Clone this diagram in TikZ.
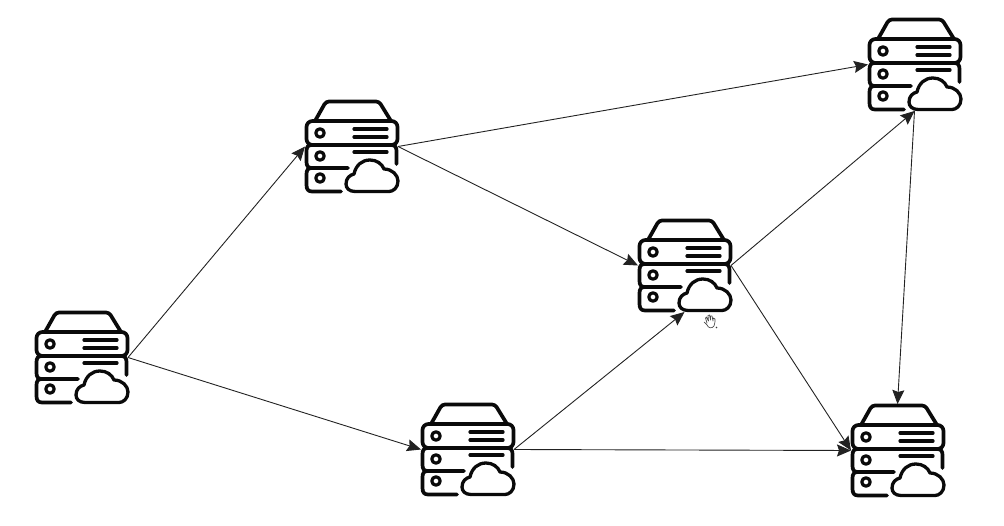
\documentclass[tikz,border=0pt]{standalone}
\usetikzlibrary{arrows.meta}
\definecolor{ink}{HTML}{0A0A0A}
\definecolor{wire}{HTML}{222222}
\tikzset{
  host/.style={inner sep=0pt,minimum width=93pt,minimum height=93pt,outer sep=0pt},
  link/.style={draw=wire,line width=0.9pt,-{Stealth[length=14pt,width=12pt,inset=2pt]}},
  server/.pic={
    \begin{scope}[draw=ink,line width=3.7pt,line cap=round,line join=round]
      \draw[rounded corners=3pt] (10,21) -- (21,1.5) -- (74,1.5) -- (86,21);
      \draw[rounded corners=6pt] (1.5,21) rectangle (92.5,45);
      \draw (91.5,64) -- (91.5,51) .. controls (91.5,47) and (90,45) .. (86,45);
      \draw (7,45) .. controls (3,45) and (1.5,47) .. (1.5,51) -- (1.5,62) .. controls (1.5,66) and (3,68) .. (7,68) -- (43,68);
      \draw (7,68) .. controls (3,68) and (1.5,70) .. (1.5,74) -- (1.5,85) .. controls (1.5,89) and (3,91.5) .. (7,91.5) -- (36,91.5);
      \draw[line width=3.2pt] (15,33) circle[radius=4.2pt] (15,56) circle[radius=4.2pt] (15,78) circle[radius=4.2pt];
      \draw[line width=3.2pt] (49,29) -- (82,29) (49,37) -- (82,37) (49,52) -- (82,52);
      \draw[line width=3.3pt] (50,91.5) .. controls (44,91.5) and (41,88) .. (41,84)
        .. controls (41,78) and (45,75) .. (49,74)
        .. controls (51,65) and (57,60) .. (65,60)
        .. controls (72,60) and (77,64) .. (79,69)
        .. controls (87,69) and (93,75) .. (93,81)
        .. controls (93,88) and (88,91.5) .. (84,91.5) -- cycle;
    \end{scope}
  }
}
\begin{document}
\begin{tikzpicture}[x=1pt,y=-1pt]
\useasboundingbox (0,0) rectangle (1004,526);
\node[host] (a) at (81.5,357.5) {};
\node[host] (b) at (351.5,146.5) {};
\node[host] (c) at (684.5,265.5) {};
\node[host] (d) at (467.5,449.5) {};
\node[host] (e) at (914.5,64.5) {};
\node[host] (f) at (897.5,450.5) {};
\foreach \n in {a,b,c,d,e,f} \pic at (\n.north west) {server};
\draw[link] (a.east) -- (b.west);
\draw[link] (a.east) -- (d.west);
\draw[link] (b.east) -- (e.west);
\draw[link] (b.east) -- (c.west);
\draw[link] (d.east) -- (c.south);
\draw[link] (d.east) -- (f.west);
\draw[link] (c.east) -- (e.south);
\draw[link] (c.east) -- (f.west);
\draw[link] (e.south) -- (f.north);
% hand cursor
\draw[draw=ink!75,line width=0.7pt,line join=round,line cap=round]
  (704,322) -- (707,325) .. controls (708,328) and (712,329) .. (714,326)
  .. controls (715,324) and (715,321) .. (715,319) -- (713,318) -- (713,321)
  -- (712,316) -- (710.5,316) -- (710.5,320) -- (709.5,315) -- (708,315.5) -- (708.5,321)
  -- (706.5,317) -- (705.5,318) -- (707,323);
\fill[ink!80] (716.5,327.5) circle[radius=0.9pt];
\end{tikzpicture}
\end{document}
